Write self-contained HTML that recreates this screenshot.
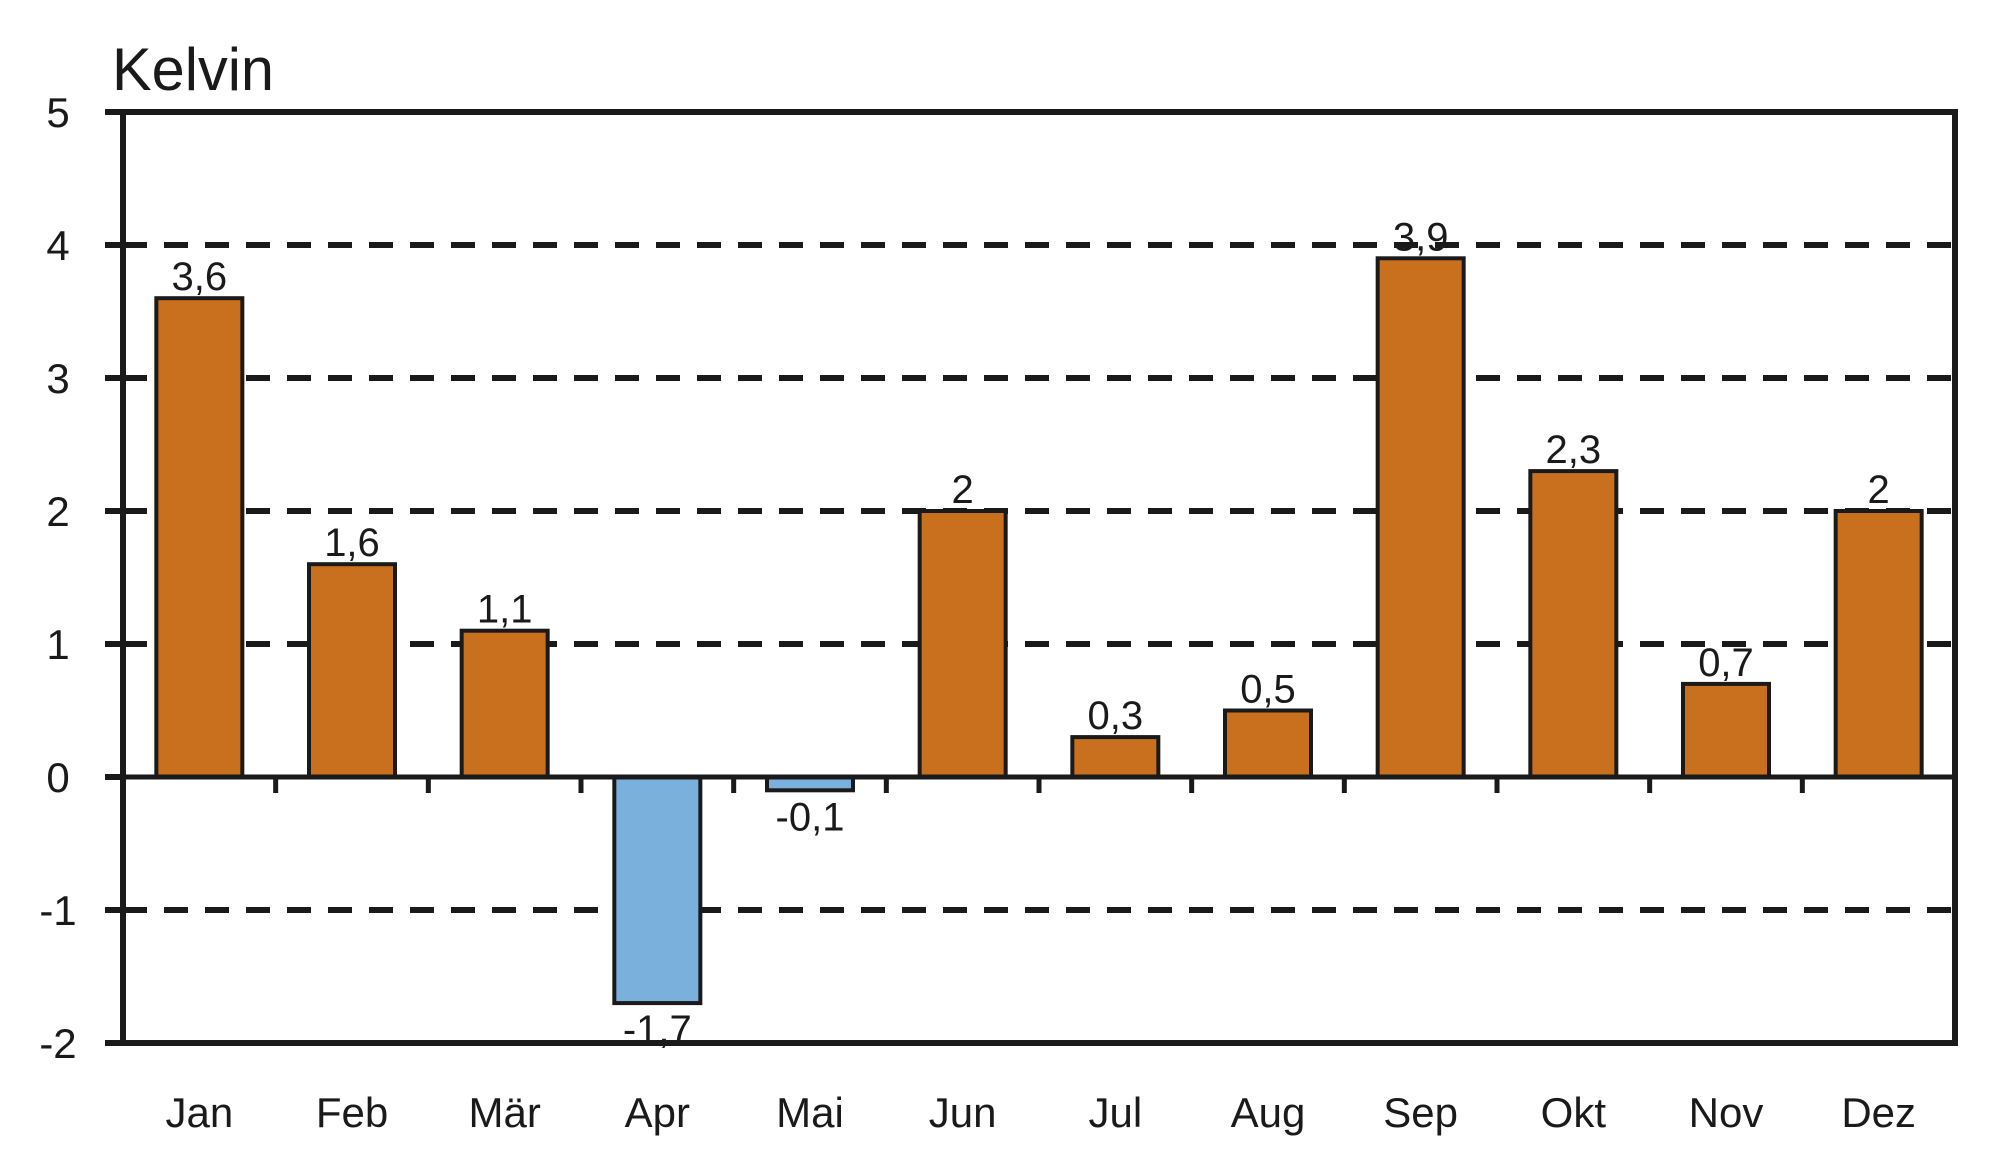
<!DOCTYPE html>
<html><head><meta charset="utf-8"><style>
body{margin:0;background:#fff}
svg{display:block;font-family:"Liberation Sans",sans-serif}
</style></head><body>
<svg id="c" width="2000" height="1169" viewBox="0 0 2000 1169">
<text x="112" y="90" font-size="60" fill="#1a1a1a" textLength="162" lengthAdjust="spacingAndGlyphs">Kelvin</text>
</svg>
<script>
const categories=["Jan","Feb","Mär","Apr","Mai","Jun","Jul","Aug","Sep","Okt","Nov","Dez"];
const values=[3.6,1.6,1.1,-1.7,-0.1,2,0.3,0.5,3.9,2.3,0.7,2];
const valueLabels=["3,6","1,6","1,1","-1,7","-0,1","2","0,3","0,5","3,9","2,3","0,7","2"];
const yTicks=[5,4,3,2,1,0,-1,-2];
const NS="http://www.w3.org/2000/svg";
const svg=document.getElementById('c');
const L=123,R=1955,T=112,B=1043,yMin=-2,yMax=5;
const y=v=>T+(yMax-v)/(yMax-yMin)*(B-T);
const slot=(R-L)/categories.length;
const x=i=>L+slot*(i+0.5);
function mk(t,a){const e=document.createElementNS(NS,t);for(const k in a)e.setAttribute(k,a[k]);svg.appendChild(e);return e;}
yTicks.forEach(t=>{
  if(t!==0&&t!==yMax&&t!==yMin){
    const g=mk('line',{x1:L,x2:R,y1:y(t),y2:y(t),stroke:'#1a1a1a','stroke-width':6,'stroke-dasharray':'24 17'});
    
    
  }
  const tk=mk('line',{x1:L-18,x2:L,y1:y(t),y2:y(t),stroke:'#1a1a1a','stroke-width':6});
  
  
  const lb=mk('text',{x:58,y:y(t)+15,'font-size':42,'text-anchor':'middle',fill:'#1a1a1a'});
  lb.textContent=String(t);
  
  
});
const bw=86;
values.forEach((v,i)=>{
  const y0=y(0),yv=y(v);
  const r=mk('rect',{x:x(i)-bw/2,y:Math.min(y0,yv),width:bw,height:Math.abs(yv-y0),fill:v>=0?'#c8701e':'#7ab0dc',stroke:'#1a1a1a','stroke-width':4});
  
  
  const t=mk('text',{x:x(i),y:v>=0?yv-8:yv+40,'font-size':40,'text-anchor':'middle',fill:'#1a1a1a'});
  t.textContent=valueLabels[i];
  
  
  const c=mk('text',{x:x(i),y:1127,'font-size':42,'text-anchor':'middle',fill:'#1a1a1a'});
  c.textContent=categories[i];
  
  
  if(i>0){
    const xt=mk('line',{x1:L+slot*i,x2:L+slot*i,y1:y(0),y2:y(0)+16,stroke:'#1a1a1a','stroke-width':5});
    
    
  }
});
const z=mk('line',{x1:L,x2:R,y1:y(0),y2:y(0),stroke:'#1a1a1a','stroke-width':5});


const f=mk('path',{d:`M${L-18} ${T}H${R}V${B}H${L-18}M${L} ${T}V${B}`,fill:'none',stroke:'#1a1a1a','stroke-width':6});


</script>
</body></html>
